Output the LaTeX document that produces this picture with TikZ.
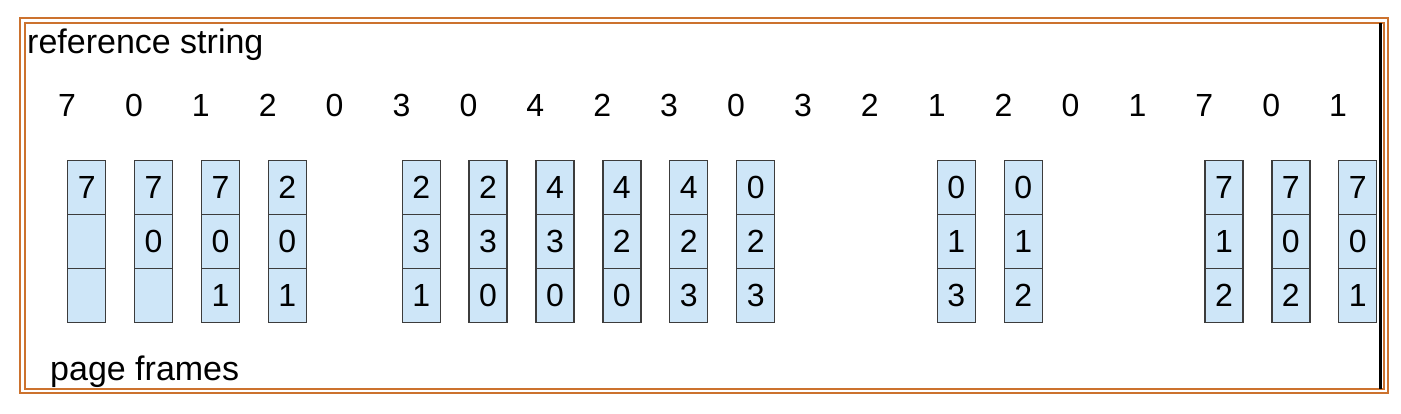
\documentclass[tikz,border=0pt]{standalone}
\usepackage{fontspec}
\setmainfont{Liberation Sans}
\definecolor{frameorange}{RGB}{204,114,46}
\definecolor{cellblue}{RGB}{206,230,248}
\definecolor{celledge}{RGB}{60,60,60}

\begin{document}
\begin{tikzpicture}[x=1pt, y=-1pt]
	\tikzstyle{every node}=[inner sep=0pt, font=\fontsize{32}{38}\selectfont]
	\tikzstyle{cell}=[draw=celledge, fill=cellblue, line width=1.3pt, minimum width=38pt, minimum height=54pt, anchor=north west]
	\useasboundingbox (0,0) rectangle (1401,413);

	% double border
	\draw[frameorange, line width=2.5pt] (20,18) rectangle (1388,393);
	\draw[frameorange, line width=2.5pt] (25,23) rectangle (1384,389);

	\node[anchor=base west, font=\fontsize{34}{40}\selectfont] (refs) at (27,53) {reference string};
	\node[anchor=base west, font=\fontsize{34}{40}\selectfont] (frames) at (50,380) {page frames};

	% reference string
	\foreach \r [count=\i from 0] in {7,0,1,2,0,3,0,4,2,3,0,3,2,1,2,0,1,7,0,1}
		\node[anchor=base] (r\i) at (67+66.9*\i, 116) {\r};

	% frames after each fault
	\foreach \i/\a/\b/\c in {0/7//, 1/7/0/, 2/7/0/1, 3/2/0/1, 5/2/3/1, 6/2/3/0, 7/4/3/0, 8/4/2/0,
			9/4/2/3, 10/0/2/3, 13/0/1/3, 14/0/1/2, 17/7/1/2, 18/7/0/2, 19/7/0/1} {
		\node[cell] (c\i-1) at (67+66.9*\i, 160) {\a};
		\node[cell] (c\i-2) at (67+66.9*\i, 214) {\b};
		\node[cell] (c\i-3) at (67+66.9*\i, 268) {\c};
	}

	\draw[black, line width=3pt] (1380,23) -- (1380,389);
\end{tikzpicture}
\end{document}
